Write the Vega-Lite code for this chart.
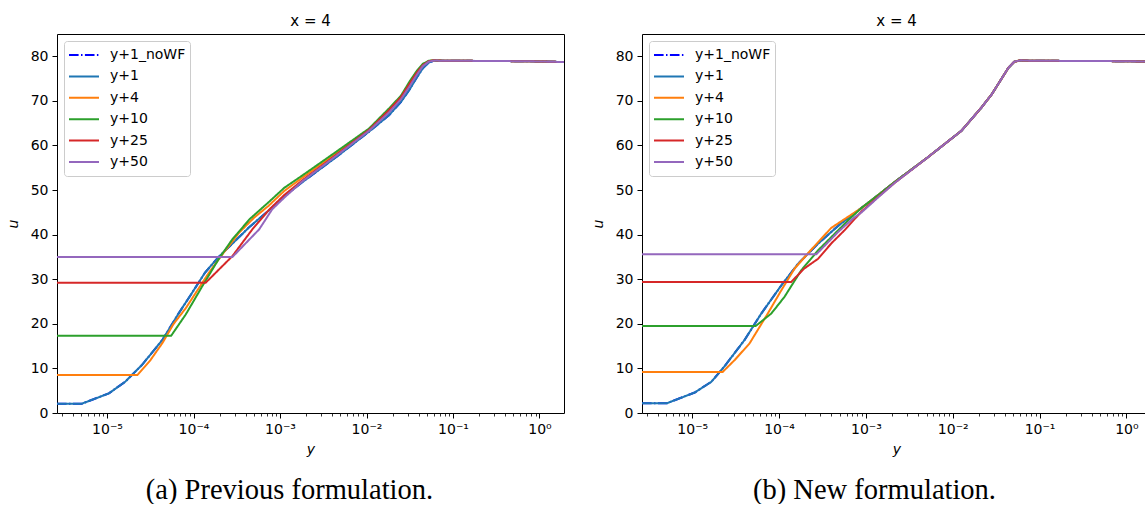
{
"$schema": "https://vega.github.io/schema/vega-lite/v6.json",
"background": "white",
"padding": {"left": 5, "top": 13, "right": 0, "bottom": 0},
"datasets": {
"a": [
{"s":"y+1_noWF","y":2.64e-6,"u":2.1},{"s":"y+1_noWF","y":5.13e-6,"u":2.1},{"s":"y+1_noWF","y":1.05e-5,"u":4.4},{"s":"y+1_noWF","y":1.62e-5,"u":7.0},{"s":"y+1_noWF","y":2.54e-5,"u":10.8},{"s":"y+1_noWF","y":4.37e-5,"u":16.4},{"s":"y+1_noWF","y":6.76e-5,"u":22.4},{"s":"y+1_noWF","y":9.66e-5,"u":27.0},{"s":"y+1_noWF","y":1.36e-4,"u":31.5},{"s":"y+1_noWF","y":1.95e-4,"u":35.0},{"s":"y+1_noWF","y":2.82e-4,"u":38.0},{"s":"y+1_noWF","y":4.47e-4,"u":41.8},{"s":"y+1_noWF","y":7.41e-4,"u":45.4},{"s":"y+1_noWF","y":1.12e-3,"u":48.6},{"s":"y+1_noWF","y":1.82e-3,"u":51.8},{"s":"y+1_noWF","y":4.47e-3,"u":57.4},{"s":"y+1_noWF","y":1.07e-2,"u":63.1},{"s":"y+1_noWF","y":1.82e-2,"u":66.8},{"s":"y+1_noWF","y":2.51e-2,"u":69.8},{"s":"y+1_noWF","y":3.16e-2,"u":72.6},{"s":"y+1_noWF","y":3.80e-2,"u":75.2},{"s":"y+1_noWF","y":4.47e-2,"u":77.3},{"s":"y+1_noWF","y":5.25e-2,"u":78.6},{"s":"y+1_noWF","y":6.03e-2,"u":79.0},{"s":"y+1_noWF","y":7.94e-2,"u":79.0},{"s":"y+1_noWF","y":0.316,"u":78.95},{"s":"y+1_noWF","y":1,"u":78.85},{"s":"y+1_noWF","y":1.92,"u":78.7},
{"s":"y+1","y":2.64e-6,"u":2.1},{"s":"y+1","y":5.13e-6,"u":2.1},{"s":"y+1","y":1.05e-5,"u":4.4},{"s":"y+1","y":1.62e-5,"u":7.0},{"s":"y+1","y":2.54e-5,"u":10.8},{"s":"y+1","y":4.37e-5,"u":16.4},{"s":"y+1","y":6.76e-5,"u":22.4},{"s":"y+1","y":9.66e-5,"u":27.0},{"s":"y+1","y":1.36e-4,"u":31.5},{"s":"y+1","y":1.95e-4,"u":35.0},{"s":"y+1","y":2.82e-4,"u":38.0},{"s":"y+1","y":4.47e-4,"u":41.8},{"s":"y+1","y":7.41e-4,"u":45.4},{"s":"y+1","y":1.12e-3,"u":48.6},{"s":"y+1","y":1.82e-3,"u":51.8},{"s":"y+1","y":4.47e-3,"u":57.4},{"s":"y+1","y":1.07e-2,"u":63.1},{"s":"y+1","y":1.82e-2,"u":66.8},{"s":"y+1","y":2.51e-2,"u":69.8},{"s":"y+1","y":3.16e-2,"u":72.6},{"s":"y+1","y":3.80e-2,"u":75.2},{"s":"y+1","y":4.47e-2,"u":77.3},{"s":"y+1","y":5.25e-2,"u":78.6},{"s":"y+1","y":6.03e-2,"u":79.0},{"s":"y+1","y":7.94e-2,"u":79.0},{"s":"y+1","y":0.316,"u":78.95},{"s":"y+1","y":1,"u":78.85},{"s":"y+1","y":1.92,"u":78.7},
{"s":"y+4","y":2.64e-6,"u":8.5},{"s":"y+4","y":2.24e-5,"u":8.5},{"s":"y+4","y":3.16e-5,"u":11.8},{"s":"y+4","y":4.37e-5,"u":15.7},{"s":"y+4","y":5.89e-5,"u":20.0},{"s":"y+4","y":8.13e-5,"u":23.5},{"s":"y+4","y":1.51e-4,"u":31.5},{"s":"y+4","y":2.24e-4,"u":36.0},{"s":"y+4","y":3.39e-4,"u":40.5},{"s":"y+4","y":5.01e-4,"u":43.8},{"s":"y+4","y":7.41e-4,"u":46.5},{"s":"y+4","y":1.12e-3,"u":49.8},{"s":"y+4","y":1.82e-3,"u":52.8},{"s":"y+4","y":4.47e-3,"u":58.2},{"s":"y+4","y":1.07e-2,"u":63.6},{"s":"y+4","y":1.82e-2,"u":67.8},{"s":"y+4","y":2.51e-2,"u":70.8},{"s":"y+4","y":3.16e-2,"u":73.8},{"s":"y+4","y":3.80e-2,"u":76.2},{"s":"y+4","y":4.47e-2,"u":78.0},{"s":"y+4","y":5.25e-2,"u":78.9},{"s":"y+4","y":6.03e-2,"u":79.1},{"s":"y+4","y":7.94e-2,"u":79.0},{"s":"y+4","y":0.316,"u":78.95},{"s":"y+4","y":1,"u":78.85},{"s":"y+4","y":1.92,"u":78.7},
{"s":"y+10","y":2.64e-6,"u":17.3},{"s":"y+10","y":5.50e-5,"u":17.3},{"s":"y+10","y":8.13e-5,"u":22.1},{"s":"y+10","y":1.26e-4,"u":28.4},{"s":"y+10","y":1.95e-4,"u":34.5},{"s":"y+10","y":2.82e-4,"u":39.0},{"s":"y+10","y":4.47e-4,"u":43.5},{"s":"y+10","y":7.41e-4,"u":47.3},{"s":"y+10","y":1.12e-3,"u":50.5},{"s":"y+10","y":1.82e-3,"u":53.3},{"s":"y+10","y":4.47e-3,"u":58.6},{"s":"y+10","y":1.07e-2,"u":63.8},{"s":"y+10","y":1.82e-2,"u":68.3},{"s":"y+10","y":2.51e-2,"u":71.2},{"s":"y+10","y":3.16e-2,"u":74.4},{"s":"y+10","y":3.80e-2,"u":76.7},{"s":"y+10","y":4.47e-2,"u":78.3},{"s":"y+10","y":5.25e-2,"u":79.0},{"s":"y+10","y":6.03e-2,"u":79.1},{"s":"y+10","y":7.94e-2,"u":79.0},{"s":"y+10","y":0.316,"u":78.95},{"s":"y+10","y":1,"u":78.85},{"s":"y+10","y":1.92,"u":78.7},
{"s":"y+25","y":2.64e-6,"u":29.2},{"s":"y+25","y":1.38e-4,"u":29.2},{"s":"y+25","y":2.82e-4,"u":35.2},{"s":"y+25","y":4.79e-4,"u":41.2},{"s":"y+25","y":7.41e-4,"u":45.5},{"s":"y+25","y":1.12e-3,"u":48.9},{"s":"y+25","y":1.82e-3,"u":52.2},{"s":"y+25","y":4.47e-3,"u":57.9},{"s":"y+25","y":1.07e-2,"u":63.5},{"s":"y+25","y":1.82e-2,"u":67.9},{"s":"y+25","y":2.51e-2,"u":70.9},{"s":"y+25","y":3.16e-2,"u":73.9},{"s":"y+25","y":3.80e-2,"u":76.3},{"s":"y+25","y":4.47e-2,"u":78.0},{"s":"y+25","y":5.25e-2,"u":78.9},{"s":"y+25","y":6.03e-2,"u":79.1},{"s":"y+25","y":7.94e-2,"u":79.0},{"s":"y+25","y":0.316,"u":78.95},{"s":"y+25","y":1,"u":78.85},{"s":"y+25","y":1.92,"u":78.7},
{"s":"y+50","y":2.64e-6,"u":35.0},{"s":"y+50","y":2.82e-4,"u":35.0},{"s":"y+50","y":5.75e-4,"u":41.2},{"s":"y+50","y":8.13e-4,"u":45.7},{"s":"y+50","y":1.12e-3,"u":48.3},{"s":"y+50","y":1.82e-3,"u":52.0},{"s":"y+50","y":4.47e-3,"u":57.7},{"s":"y+50","y":1.07e-2,"u":63.3},{"s":"y+50","y":1.82e-2,"u":67.4},{"s":"y+50","y":2.51e-2,"u":70.4},{"s":"y+50","y":3.16e-2,"u":73.3},{"s":"y+50","y":3.80e-2,"u":75.8},{"s":"y+50","y":4.47e-2,"u":77.8},{"s":"y+50","y":5.25e-2,"u":78.8},{"s":"y+50","y":6.03e-2,"u":79.05},{"s":"y+50","y":7.94e-2,"u":79.0},{"s":"y+50","y":0.316,"u":78.95},{"s":"y+50","y":1,"u":78.85},{"s":"y+50","y":1.92,"u":78.7}
],
"b": [
{"s":"y+1_noWF","y":2.64e-6,"u":2.2},{"s":"y+1_noWF","y":5.13e-6,"u":2.2},{"s":"y+1_noWF","y":1.07e-5,"u":4.6},{"s":"y+1_noWF","y":1.66e-5,"u":7.0},{"s":"y+1_noWF","y":2.34e-5,"u":10.4},{"s":"y+1_noWF","y":3.98e-5,"u":16.3},{"s":"y+1_noWF","y":6.24e-5,"u":22.3},{"s":"y+1_noWF","y":1.06e-4,"u":28.6},{"s":"y+1_noWF","y":1.66e-4,"u":33.5},{"s":"y+1_noWF","y":2.82e-4,"u":38.0},{"s":"y+1_noWF","y":5.01e-4,"u":42.3},{"s":"y+1_noWF","y":8.91e-4,"u":46.0},{"s":"y+1_noWF","y":1.41e-3,"u":49.0},{"s":"y+1_noWF","y":2.14e-3,"u":51.8},{"s":"y+1_noWF","y":5.13e-3,"u":57.3},{"s":"y+1_noWF","y":1.26e-2,"u":63.3},{"s":"y+1_noWF","y":2.14e-2,"u":68.5},{"s":"y+1_noWF","y":2.82e-2,"u":71.5},{"s":"y+1_noWF","y":3.63e-2,"u":74.9},{"s":"y+1_noWF","y":4.37e-2,"u":77.4},{"s":"y+1_noWF","y":5.13e-2,"u":78.8},{"s":"y+1_noWF","y":6.03e-2,"u":79.1},{"s":"y+1_noWF","y":7.94e-2,"u":79.0},{"s":"y+1_noWF","y":0.316,"u":78.95},{"s":"y+1_noWF","y":1,"u":78.9},{"s":"y+1_noWF","y":1.92,"u":78.8},
{"s":"y+1","y":2.64e-6,"u":2.2},{"s":"y+1","y":5.13e-6,"u":2.2},{"s":"y+1","y":1.07e-5,"u":4.6},{"s":"y+1","y":1.66e-5,"u":7.0},{"s":"y+1","y":2.34e-5,"u":10.4},{"s":"y+1","y":3.98e-5,"u":16.3},{"s":"y+1","y":6.24e-5,"u":22.3},{"s":"y+1","y":1.06e-4,"u":28.6},{"s":"y+1","y":1.66e-4,"u":33.5},{"s":"y+1","y":2.82e-4,"u":38.0},{"s":"y+1","y":5.01e-4,"u":42.3},{"s":"y+1","y":8.91e-4,"u":46.0},{"s":"y+1","y":1.41e-3,"u":49.0},{"s":"y+1","y":2.14e-3,"u":51.8},{"s":"y+1","y":5.13e-3,"u":57.3},{"s":"y+1","y":1.26e-2,"u":63.3},{"s":"y+1","y":2.14e-2,"u":68.5},{"s":"y+1","y":2.82e-2,"u":71.5},{"s":"y+1","y":3.63e-2,"u":74.9},{"s":"y+1","y":4.37e-2,"u":77.4},{"s":"y+1","y":5.13e-2,"u":78.8},{"s":"y+1","y":6.03e-2,"u":79.1},{"s":"y+1","y":7.94e-2,"u":79.0},{"s":"y+1","y":0.316,"u":78.95},{"s":"y+1","y":1,"u":78.9},{"s":"y+1","y":1.92,"u":78.8},
{"s":"y+4","y":2.64e-6,"u":9.2},{"s":"y+4","y":2.24e-5,"u":9.2},{"s":"y+4","y":3.09e-5,"u":11.9},{"s":"y+4","y":4.57e-5,"u":15.6},{"s":"y+4","y":7.41e-5,"u":22.3},{"s":"y+4","y":1.06e-4,"u":27.5},{"s":"y+4","y":1.51e-4,"u":32.4},{"s":"y+4","y":2.34e-4,"u":36.6},{"s":"y+4","y":3.98e-4,"u":41.5},{"s":"y+4","y":8.91e-4,"u":46.0},{"s":"y+4","y":1.41e-3,"u":49.0},{"s":"y+4","y":2.14e-3,"u":51.8},{"s":"y+4","y":5.13e-3,"u":57.3},{"s":"y+4","y":1.26e-2,"u":63.3},{"s":"y+4","y":2.14e-2,"u":68.5},{"s":"y+4","y":2.82e-2,"u":71.5},{"s":"y+4","y":3.63e-2,"u":74.9},{"s":"y+4","y":4.37e-2,"u":77.4},{"s":"y+4","y":5.13e-2,"u":78.8},{"s":"y+4","y":6.03e-2,"u":79.1},{"s":"y+4","y":7.94e-2,"u":79.0},{"s":"y+4","y":0.316,"u":78.95},{"s":"y+4","y":1,"u":78.9},{"s":"y+4","y":1.92,"u":78.8},
{"s":"y+10","y":2.64e-6,"u":19.5},{"s":"y+10","y":5.37e-5,"u":19.5},{"s":"y+10","y":8.13e-5,"u":22.3},{"s":"y+10","y":1.15e-4,"u":26.0},{"s":"y+10","y":1.80e-4,"u":32.0},{"s":"y+10","y":2.82e-4,"u":36.5},{"s":"y+10","y":4.37e-4,"u":40.2},{"s":"y+10","y":6.31e-4,"u":43.3},{"s":"y+10","y":8.91e-4,"u":46.0},{"s":"y+10","y":1.41e-3,"u":49.0},{"s":"y+10","y":2.14e-3,"u":51.8},{"s":"y+10","y":5.13e-3,"u":57.3},{"s":"y+10","y":1.26e-2,"u":63.3},{"s":"y+10","y":2.14e-2,"u":68.5},{"s":"y+10","y":2.82e-2,"u":71.5},{"s":"y+10","y":3.63e-2,"u":74.9},{"s":"y+10","y":4.37e-2,"u":77.4},{"s":"y+10","y":5.13e-2,"u":78.8},{"s":"y+10","y":6.03e-2,"u":79.1},{"s":"y+10","y":7.94e-2,"u":79.0},{"s":"y+10","y":0.316,"u":78.95},{"s":"y+10","y":1,"u":78.9},{"s":"y+10","y":1.92,"u":78.8},
{"s":"y+25","y":2.64e-6,"u":29.4},{"s":"y+25","y":1.38e-4,"u":29.4},{"s":"y+25","y":1.95e-4,"u":32.4},{"s":"y+25","y":2.82e-4,"u":34.6},{"s":"y+25","y":3.98e-4,"u":38.0},{"s":"y+25","y":5.62e-4,"u":40.9},{"s":"y+25","y":8.91e-4,"u":45.2},{"s":"y+25","y":1.41e-3,"u":48.6},{"s":"y+25","y":2.14e-3,"u":51.6},{"s":"y+25","y":5.13e-3,"u":57.3},{"s":"y+25","y":1.26e-2,"u":63.3},{"s":"y+25","y":2.14e-2,"u":68.5},{"s":"y+25","y":2.82e-2,"u":71.5},{"s":"y+25","y":3.63e-2,"u":74.9},{"s":"y+25","y":4.37e-2,"u":77.4},{"s":"y+25","y":5.13e-2,"u":78.8},{"s":"y+25","y":6.03e-2,"u":79.1},{"s":"y+25","y":7.94e-2,"u":79.0},{"s":"y+25","y":0.316,"u":78.95},{"s":"y+25","y":1,"u":78.9},{"s":"y+25","y":1.92,"u":78.8},
{"s":"y+50","y":2.64e-6,"u":35.6},{"s":"y+50","y":2.69e-4,"u":35.6},{"s":"y+50","y":4.79e-4,"u":40.6},{"s":"y+50","y":7.08e-4,"u":43.6},{"s":"y+50","y":8.91e-4,"u":45.0},{"s":"y+50","y":1.41e-3,"u":48.5},{"s":"y+50","y":2.14e-3,"u":51.6},{"s":"y+50","y":5.13e-3,"u":57.3},{"s":"y+50","y":1.26e-2,"u":63.3},{"s":"y+50","y":2.14e-2,"u":68.5},{"s":"y+50","y":2.82e-2,"u":71.5},{"s":"y+50","y":3.63e-2,"u":74.9},{"s":"y+50","y":4.37e-2,"u":77.4},{"s":"y+50","y":5.13e-2,"u":78.8},{"s":"y+50","y":6.03e-2,"u":79.1},{"s":"y+50","y":7.94e-2,"u":79.0},{"s":"y+50","y":0.316,"u":78.95},{"s":"y+50","y":1,"u":78.9},{"s":"y+50","y":1.92,"u":78.8}
]
},
"hconcat": [
{
"width": 507, "height": 379,
"data": {"name": "a"},
"title": {"text": "x = 4", "offset": 5.5},
"layer": [
{"mark": {"type": "line", "strokeWidth": 2, "clip": true},
 "encoding": {
  "x": {"field": "y", "type": "quantitative", "scale": {"type": "log", "domain": [2.64e-6, 1.92], "nice": false},
        "axis": {"orient": "bottom", "values": [1e-5, 1e-4, 1e-3, 0.01, 0.1, 1], "labelExpr": "'10' + ['⁻⁵','⁻⁴','⁻³','⁻²','⁻¹','⁰'][round(log(datum.value)/LN10) + 5]", "title": "y", "titleY": 40, "titleBaseline": "alphabetic"}},
  "y": {"field": "u", "type": "quantitative", "scale": {"domain": [0, 85], "nice": false, "zero": false},
        "axis": {"orient": "left", "values": [0,10,20,30,40,50,60,70,80], "title": "u", "titlePadding": 10}},
  "color": {"field": "s", "type": "nominal", "scale": {"domain": ["y+1_noWF","y+1","y+4","y+10","y+25","y+50"], "range": ["#0000ff","#1f77b4","#ff7f0e","#2ca02c","#d62728","#9467bd"]}, "legend": {"title": null}},
  "strokeDash": {"field": "s", "type": "nominal", "scale": {"domain": ["y+1_noWF","y+1","y+4","y+10","y+25","y+50"], "range": [[9.6,2.4,1.5,2.4],[1,0],[1,0],[1,0],[1,0],[1,0]]}, "legend": {"title": null}}
 }},
{"mark": {"type": "point", "opacity": 0, "size": 0},
 "encoding": {
  "x": {"field": "y", "type": "quantitative", "scale": {"type": "log", "domain": [2.64e-6, 1.92], "nice": false},
        "axis": {"orient": "bottom", "values": [3e-6,4e-6,5e-6,6e-6,7e-6,8e-6,9e-6,2e-5,3e-5,4e-5,5e-5,6e-5,7e-5,8e-5,9e-5,2e-4,3e-4,4e-4,5e-4,6e-4,7e-4,8e-4,9e-4,2e-3,3e-3,4e-3,5e-3,6e-3,7e-3,8e-3,9e-3,0.02,0.03,0.04,0.05,0.06,0.07,0.08,0.09,0.2,0.3,0.4,0.5,0.6,0.7,0.8,0.9],
                 "labels": false, "tickSize": 3, "tickWidth": 0.8, "title": "(a) Previous formulation.", "titleFont": "Liberation Serif", "titleFontSize": 28.5, "titleFontStyle": "normal", "titleX": 232, "titleY": 85, "titleAlign": "center", "titleBaseline": "alphabetic"}},
  "y": {"field": "u", "type": "quantitative"}
 }}
],
"resolve": {"axis": {"x": "independent"}}
},
{
"width": 509, "height": 379,
"data": {"name": "b"},
"title": {"text": "x = 4", "offset": 5.5},
"layer": [
{"mark": {"type": "line", "strokeWidth": 2, "clip": true},
 "encoding": {
  "x": {"field": "y", "type": "quantitative", "scale": {"type": "log", "domain": [2.64e-6, 1.92], "nice": false},
        "axis": {"orient": "bottom", "values": [1e-5, 1e-4, 1e-3, 0.01, 0.1, 1], "labelExpr": "'10' + ['⁻⁵','⁻⁴','⁻³','⁻²','⁻¹','⁰'][round(log(datum.value)/LN10) + 5]", "title": "y", "titleY": 40, "titleBaseline": "alphabetic"}},
  "y": {"field": "u", "type": "quantitative", "scale": {"domain": [0, 85], "nice": false, "zero": false},
        "axis": {"orient": "left", "values": [0,10,20,30,40,50,60,70,80], "title": "u", "titlePadding": 10}},
  "color": {"field": "s", "type": "nominal", "scale": {"domain": ["y+1_noWF","y+1","y+4","y+10","y+25","y+50"], "range": ["#0000ff","#1f77b4","#ff7f0e","#2ca02c","#d62728","#9467bd"]}, "legend": {"title": null}},
  "strokeDash": {"field": "s", "type": "nominal", "scale": {"domain": ["y+1_noWF","y+1","y+4","y+10","y+25","y+50"], "range": [[9.6,2.4,1.5,2.4],[1,0],[1,0],[1,0],[1,0],[1,0]]}, "legend": {"title": null}}
 }},
{"mark": {"type": "point", "opacity": 0, "size": 0},
 "encoding": {
  "x": {"field": "y", "type": "quantitative", "scale": {"type": "log", "domain": [2.64e-6, 1.92], "nice": false},
        "axis": {"orient": "bottom", "values": [3e-6,4e-6,5e-6,6e-6,7e-6,8e-6,9e-6,2e-5,3e-5,4e-5,5e-5,6e-5,7e-5,8e-5,9e-5,2e-4,3e-4,4e-4,5e-4,6e-4,7e-4,8e-4,9e-4,2e-3,3e-3,4e-3,5e-3,6e-3,7e-3,8e-3,9e-3,0.02,0.03,0.04,0.05,0.06,0.07,0.08,0.09,0.2,0.3,0.4,0.5,0.6,0.7,0.8,0.9],
                 "labels": false, "tickSize": 3, "tickWidth": 0.8, "title": "(b) New formulation.", "titleFont": "Liberation Serif", "titleFontSize": 28.5, "titleFontStyle": "normal", "titleX": 232, "titleY": 85, "titleAlign": "center", "titleBaseline": "alphabetic"}},
  "y": {"field": "u", "type": "quantitative"}
 }}
],
"resolve": {"axis": {"x": "independent"}}
}
],
"spacing": 25,
"resolve": {"scale": {"color": "independent", "strokeDash": "independent", "x": "independent", "y": "independent"}, "legend": {"color": "independent", "strokeDash": "independent"}},
"config": {
 "view": {"stroke": "black", "strokeWidth": 1},
 "axis": {"domain": false, "grid": false, "labelFont": "DejaVu Sans", "labelFontSize": 14, "labelColor": "black", "tickColor": "black", "tickSize": 5, "tickWidth": 1, "labelPadding": 4, "labelFlush": false, "labelOverlap": false, "titleFont": "DejaVu Sans", "titleFontSize": 14, "titleFontWeight": "normal", "titleFontStyle": "italic", "titleColor": "black"},
 "title": {"font": "DejaVu Sans", "fontSize": 15, "fontWeight": "normal", "color": "black", "anchor": "middle", "frame": "group"},
 "legend": {"orient": "top-left", "offset": 7, "symbolType": "stroke", "symbolSize": 900, "symbolStrokeWidth": 2, "clipHeight": 20, "rowPadding": 1.4, "labelFont": "DejaVu Sans", "labelFontSize": 14, "labelColor": "black", "labelOffset": 10, "padding": 4, "fillColor": "rgba(255,255,255,0.8)", "strokeColor": "#cccccc", "cornerRadius": 3, "labelLimit": 300}
}
}
